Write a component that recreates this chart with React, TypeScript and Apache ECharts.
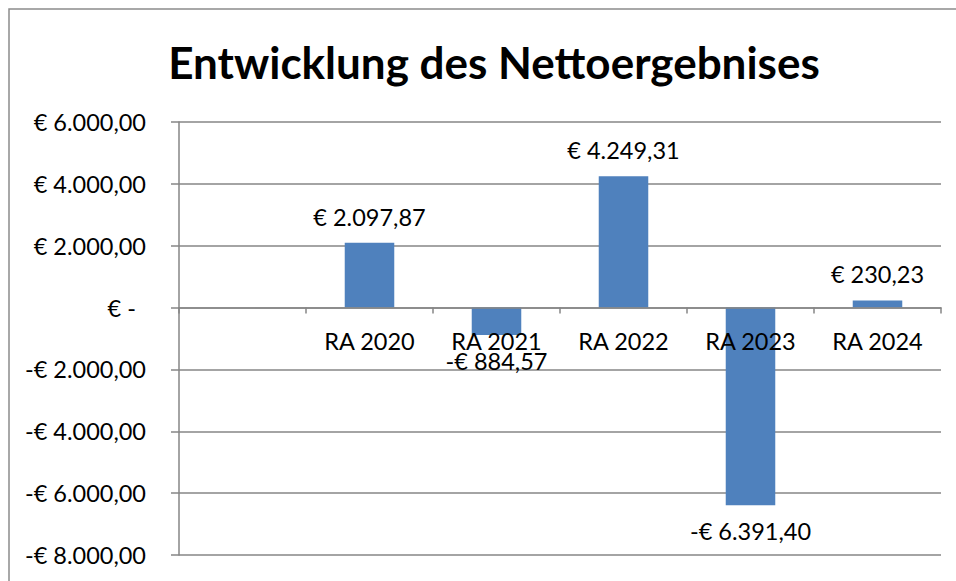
import React, { useEffect, useRef } from "react";
import * as echarts from "echarts";

const categories = ["", "RA 2020", "RA 2021", "RA 2022", "RA 2023", "RA 2024"];
const values: (number | null)[] = [null, 2097.87, -884.57, 4249.31, -6391.4, 230.23];
const yMin = -8000;
const yMax = 6000;
const yInterval = 2000;
const titleText = "Entwicklung des Nettoergebnises";

const FONT = "Lato, 'Noto Sans', sans-serif";
const FS = 23.5;

function fmtNum(v: number): string {
  const abs = Math.abs(v);
  const fixed = abs.toFixed(2);
  const [intPart, dec] = fixed.split(".");
  const withDots = intPart.replace(/\B(?=(\d{3})+(?!\d))/g, ".");
  return withDots + "," + dec;
}

function fmtEuro(v: number): string {
  if (v === 0) return "€ -";
  return (v < 0 ? "-" : "") + "€ " + fmtNum(v);
}

export default function App() {
  const ref = useRef<HTMLDivElement>(null);
  useEffect(() => {
    if (!ref.current) return;
    const chart = echarts.init(ref.current, undefined, { renderer: "svg" });
    const grey = "#868686";
    const gridTop = 122;
    const gridBottom = 26;
    const plotH = 581 - gridTop - gridBottom;
    const zeroFromBottom = (plotH * (0 - yMin)) / (yMax - yMin);
    chart.setOption({
      animation: false,
      backgroundColor: "#ffffff",
      title: {
        text: titleText,
        left: 489,
        textAlign: "center",
        top: 35,
        textStyle: { fontFamily: FONT, fontWeight: "bold", fontSize: 44, color: "#000" },
      },
      graphic: [
        {
          type: "rect",
          shape: { x: 9, y: 9, width: 1000, height: 650 },
          style: { fill: "none", stroke: "#8c8c8c", lineWidth: 1.5 },
          silent: true,
        },
      ],
      grid: {
        left: 179,
        right: 15,
        top: gridTop,
        bottom: gridBottom,
        containLabel: false,
        outerBoundsMode: "none",
      },
      xAxis: {
        type: "category",
        data: categories,
        position: "bottom",
        offset: -zeroFromBottom,
        z: 10,
        axisLine: { onZero: false, lineStyle: { color: grey, width: 1.5 } },
        axisTick: { show: true, length: 6, lineStyle: { color: grey, width: 1.5 } },
        axisLabel: { fontFamily: FONT, fontSize: FS, color: "#000", margin: 21, interval: 0 },
        splitLine: { show: false },
      },
      yAxis: {
        type: "value",
        min: yMin,
        max: yMax,
        interval: yInterval,
        axisLine: { show: true, lineStyle: { color: grey, width: 1.5 } },
        axisTick: { show: true, length: 8, lineStyle: { color: grey, width: 1.5 } },
        splitLine: { show: true, lineStyle: { color: grey, width: 1.5 } },
        axisLabel: {
          margin: 33,
          formatter: (v: number) => (v === 0 ? "{z|€ -}" : fmtEuro(v)),
          fontFamily: FONT,
          fontSize: FS,
          color: "#000",
          rich: { z: { fontFamily: FONT, fontSize: FS, color: "#000", padding: [0, 10, 0, 0] } },
        },
      },
      series: [
        {
          type: "bar",
          barWidth: "39%",
          itemStyle: { color: "#4F81BD" },
          data: values.map((v) =>
            v === null
              ? null
              : {
                  value: v,
                  label: {
                    show: true,
                    position: v < 0 ? "bottom" : "top",
                    distance: 14,
                    formatter: () => fmtEuro(v),
                    fontFamily: FONT,
                    fontSize: FS,
                    color: "#000",
                  },
                }
          ),
        },
      ],
    });
    return () => chart.dispose();
  }, []);
  return <div ref={ref} style={{ position: "fixed", left: 0, top: 0, width: 956, height: 581 }} />;
}
